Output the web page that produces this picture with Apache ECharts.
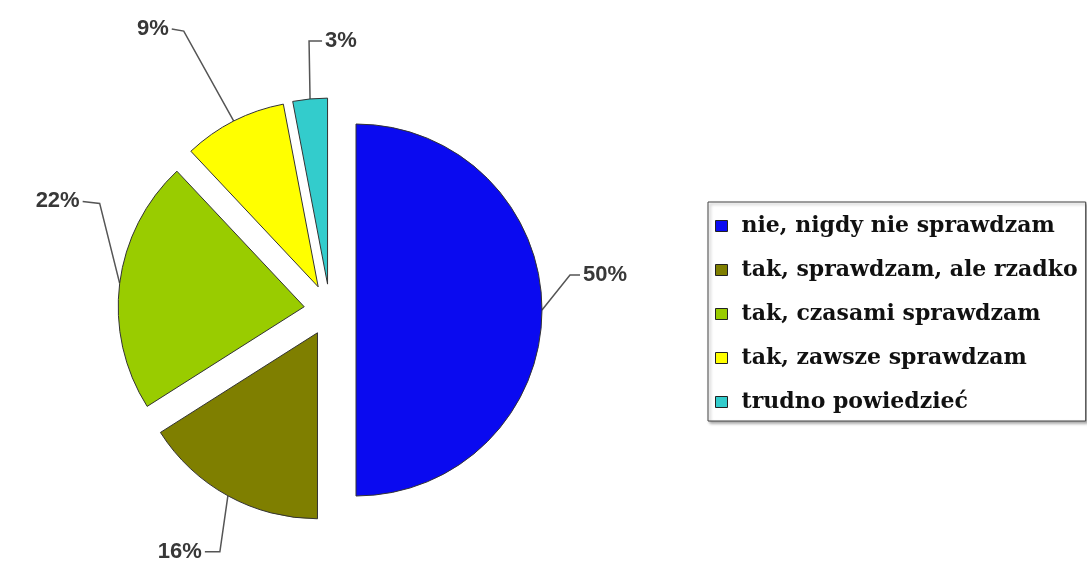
<!DOCTYPE html>
<html>
<head>
<meta charset="utf-8">
<script src="https://cdn.jsdelivr.net/npm/echarts@6/dist/echarts.min.js"></script>
<style>
html,body{margin:0;padding:0;background:#fff;}
#chart{width:1087px;height:564px;}
</style>
</head>
<body>
<div id="chart"></div>
<script>
const categories = [
  'nie, nigdy nie sprawdzam',
  'tak, sprawdzam, ale rzadko',
  'tak, czasami sprawdzam',
  'tak, zawsze sprawdzam',
  'trudno powiedzieć'
];
const values = [50, 16, 22, 9, 3];
const colors = ['#0a0af0', '#7f7f00', '#99cc00', '#ffff00', '#33cccc'];

// label-line geometry relative to each slice's anchor point: [elbow dx, elbow dy, end dx, end dy, side]
const labelLines = [
  [28, -35, 10, 0, 'right'],
  [-8, 56, -15, 0, 'left'],
  [-20, -80, -17, -2, 'left'],
  [-50, -90, -12, -2, 'left'],
  [-1, -58, 13, 0, 'right']
];

const PIE_CENTER = [330, 310];
const PIE_RADIUS = 186;
const EXPLODE = 26;

const chart = echarts.init(document.getElementById('chart'), null, {renderer: 'canvas'});
const pieData = categories.map((n, i) => ({name: n, value: values[i]}));
const option = {
  backgroundColor: '#ffffff',
  animation: false,
  color: colors,
  legend: {
    orient: 'vertical',
    left: 708,
    top: 202,
    padding: [12, 8, 7, 7],
    itemGap: 20,
    itemWidth: 12,
    itemHeight: 11,
    icon: 'rect',
    borderColor: '#444',
    borderWidth: 1,
    backgroundColor: '#fff',
    shadowColor: 'rgba(0,0,0,0.35)',
    shadowBlur: 3,
    shadowOffsetX: 2,
    shadowOffsetY: 2,
    selectedMode: false,
    itemStyle: {borderColor: '#222', borderWidth: 1},
    textStyle: {
      fontFamily: 'DejaVu Serif',
      fontWeight: 'bold',
      fontSize: 22,
      color: '#111',
      lineHeight: 24,
      padding: [0, 0, 0, 9]
    },
    data: categories
  },
  series: [{
    type: 'pie',
    center: PIE_CENTER,
    radius: PIE_RADIUS,
    startAngle: 90,
    clockwise: true,
    selectedMode: 'multiple',
    selectedOffset: EXPLODE,
    data: pieData.map(d => Object.assign({selected: true}, d)),
    itemStyle: {borderColor: '#333', borderWidth: 1},
    select: {itemStyle: {borderColor: '#333', borderWidth: 1}},
    emphasis: {disabled: true},
    label: {show: false},
    labelLine: {show: false}
  }, {
    type: 'pie',
    center: PIE_CENTER,
    radius: PIE_RADIUS,
    startAngle: 90,
    clockwise: true,
    silent: true,
    selectedMode: false,
    data: pieData,
    itemStyle: {color: 'rgba(0,0,0,0)', borderWidth: 0},
    emphasis: {disabled: true},
    label: {
      show: true,
      position: 'outside',
      formatter: '{c}%',
      fontFamily: 'Liberation Sans',
      fontWeight: 'bold',
      fontSize: 22,
      color: '#383838'
    },
    labelLine: {
      show: true,
      length: 20,
      length2: 10,
      lineStyle: {color: '#555', width: 1.5}
    },
    labelLayout: function (params) {
      const g = labelLines[params.dataIndex];
      const p = params.labelLinePoints[0];
      const vx = p[0] - PIE_CENTER[0], vy = p[1] - PIE_CENTER[1];
      const len = Math.sqrt(vx * vx + vy * vy) || 1;
      const a = [p[0] + vx / len * EXPLODE, p[1] + vy / len * EXPLODE];
      const e = [a[0] + g[0], a[1] + g[1]];
      const t = [e[0] + g[2], e[1] + g[3]];
      const right = g[4] === 'right';
      return {
        x: t[0] + (right ? 3 : -3),
        y: t[1],
        align: right ? 'left' : 'right',
        verticalAlign: 'middle',
        labelLinePoints: [a, e, t]
      };
    }
  }]
};
chart.setOption(option);
</script>
</body>
</html>
